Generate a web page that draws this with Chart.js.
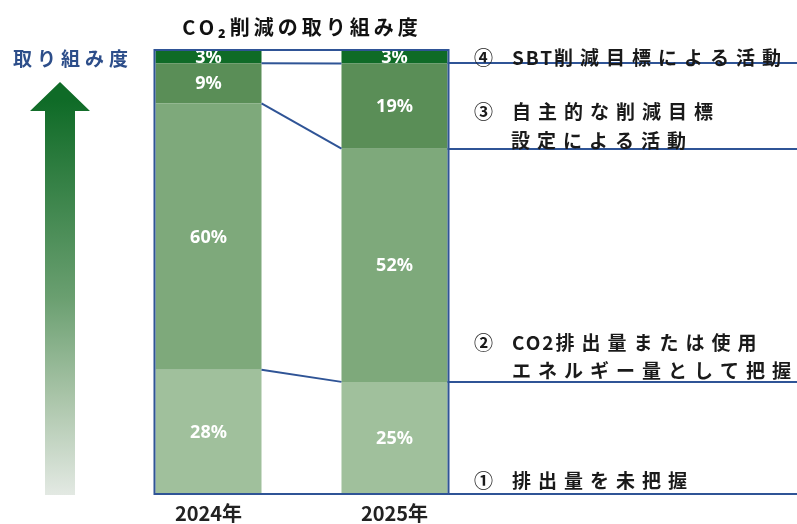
<!DOCTYPE html>
<html><head><meta charset="utf-8">
<script src="https://cdn.jsdelivr.net/npm/chart.js@4"></script>
<style>html,body{margin:0;padding:0;background:#fff}#wrap{width:797px;height:524px}</style>
</head><body><div id="wrap"><canvas id="c" width="797" height="524"></canvas></div>
<script>
const categories = ['2024年', '2025年'];
const level1 = [28, 25]; // ① 排出量を未把握
const level2 = [60, 52]; // ② CO2排出量または使用エネルギー量として把握
const level3 = [9, 19];  // ③ 自主的な削減目標設定による活動
const level4 = [3, 3];   // ④ SBT削減目標による活動
const levelNames = ['① 排出量を未把握', '② CO2排出量または使用エネルギー量として把握', '③ 自主的な削減目標設定による活動', '④ SBT削減目標による活動'];
const titleText = 'CO₂削減の取り組み度';
const axisLabel = '取り組み度';

const COLORS = ['#a0c09c', '#7ea97b', '#5a8e57', '#0f6b27'];
const BLUE = '#2f5496';
const JP = '"Noto Sans CJK JP", "Noto Sans", sans-serif';

// 100% stacked: share of each category's total (labels keep the raw values)
const rawSeries = [level1, level2, level3, level4];
const totals = categories.map((c, j) => rawSeries.reduce((s, arr) => s + arr[j], 0));
const shareSeries = rawSeries.map(arr => arr.map((v, j) => v / totals[j] * 100));

function drawRuns(ctx, txt, x, y, asciiSp, cjkSp) {
  const runs = [];
  for (const ch of txt) {
    const isAscii = ch.charCodeAt(0) < 128;
    if (runs.length && runs[runs.length - 1].a === isAscii) runs[runs.length - 1].t += ch;
    else runs.push({ t: ch, a: isAscii });
  }
  ctx.save();
  ctx.textAlign = 'left';
  for (const r of runs) {
    const sp = r.a ? asciiSp : cjkSp;
    ctx.letterSpacing = '0px';
    const w = ctx.measureText(r.t).width;
    ctx.letterSpacing = sp + 'px';
    ctx.fillText(r.t, x, y);
    x += w + sp * [...r.t].length;
  }
  ctx.restore();
}

const overlay = {
  id: 'overlay',
  beforeDraw(chart) {
    const ctx = chart.ctx;
    ctx.save();
    ctx.fillStyle = '#111';
    ctx.font = 'bold 20px ' + JP;
    ctx.textBaseline = 'middle';
    ctx.textAlign = 'center';
    ctx.letterSpacing = '4px';
    ctx.fillText(titleText, 302, 27);
    ctx.fillStyle = '#2d4e8a';
    ctx.font = 'bold 19px ' + JP;
    ctx.letterSpacing = '5px';
    ctx.fillText(axisLabel, 73, 59);
    ctx.letterSpacing = '0px';
    const g = ctx.createLinearGradient(0, 100, 0, 495);
    g.addColorStop(0, '#0f6b27');
    g.addColorStop(0.5, '#6a9f70');
    g.addColorStop(0.75, '#a9c4a8');
    g.addColorStop(1, '#e3e9e3');
    ctx.fillStyle = g;
    ctx.beginPath();
    ctx.moveTo(60, 82);
    ctx.lineTo(90, 111);
    ctx.lineTo(75, 111);
    ctx.lineTo(75, 495);
    ctx.lineTo(45, 495);
    ctx.lineTo(45, 111);
    ctx.lineTo(30, 111);
    ctx.closePath();
    ctx.fill();
    ctx.restore();
  },
  afterDatasetsDraw(chart) {
    const ctx = chart.ctx;
    const y = chart.scales.y;
    const metas = chart.data.datasets.map((d, i) => chart.getDatasetMeta(i));
    const b0 = metas[0].data[0], b1 = metas[0].data[1];
    const right0 = b0.x + b0.width / 2;
    const left0 = b0.x - b0.width / 2;
    const left1 = b1.x - b1.width / 2;
    const right1 = b1.x + b1.width / 2;
    const top = y.getPixelForValue(100), bot = y.getPixelForValue(0);
    ctx.save();
    ctx.fillStyle = '#ffffff';
    ctx.font = 'bold 18px "Noto Sans", sans-serif';
    ctx.textAlign = 'center';
    ctx.textBaseline = 'middle';
    chart.data.datasets.forEach((ds, i) => {
      metas[i].data.forEach((el, j) => {
        ctx.fillText(rawSeries[i][j] + '%', el.x, (el.y + el.base) / 2 + 1);
      });
    });
    ctx.strokeStyle = BLUE;
    ctx.lineWidth = 2;
    let c0 = 0, c1 = 0;
    const cum1 = [0];
    const ds = chart.data.datasets;
    for (let i = 0; i < ds.length - 1; i++) {
      c0 += ds[i].data[0];
      c1 += ds[i].data[1];
      cum1.push(c1);
      ctx.beginPath();
      ctx.moveTo(right0, y.getPixelForValue(c0));
      ctx.lineTo(left1, y.getPixelForValue(c1));
      ctx.stroke();
    }
    cum1.forEach(v => {
      const py = Math.round(y.getPixelForValue(v));
      ctx.beginPath();
      ctx.moveTo(right1, py);
      ctx.lineTo(797, py);
      ctx.stroke();
    });
    ctx.strokeRect(left0 - 1, top, right1 - left0 + 2, bot - top);
    ctx.fillStyle = '#1a1a1a';
    ctx.font = 'bold 19px ' + JP;
    ctx.textBaseline = 'middle';
    const sp = 7, asp = 2;
    drawRuns(ctx, '④', 474, 58, 0, 0);
    drawRuns(ctx, 'SBT削減目標による活動', 512, 58, asp, sp);
    drawRuns(ctx, '③', 474, 112, 0, 0);
    drawRuns(ctx, '自主的な削減目標', 512, 112, asp, sp);
    drawRuns(ctx, '設定による活動', 511, 141, asp, sp);
    drawRuns(ctx, '②', 474, 343, 0, 0);
    drawRuns(ctx, 'CO2排出量または使用', 512, 343, asp, sp);
    drawRuns(ctx, 'エネルギー量として把握', 512, 371, asp, sp);
    drawRuns(ctx, '①', 474, 481, 0, 0);
    drawRuns(ctx, '排出量を未把握', 512, 481, asp, sp);
    ctx.restore();
  }
};

new Chart(document.getElementById('c'), {
  type: 'bar',
  data: {
    labels: categories,
    datasets: shareSeries.map((arr, i) => ({ label: levelNames[i], data: arr, backgroundColor: COLORS[i] }))
  },
  options: {
    responsive: false,
    animation: false,
    layout: { padding: { top: 50, left: 115.5, right: 309.5, bottom: 0 } },
    datasets: { bar: { barPercentage: 1, categoryPercentage: 0.57, borderWidth: 0 } },
    plugins: { legend: { display: false }, tooltip: { enabled: false }, title: { display: false } },
    scales: {
      x: {
        stacked: true,
        grid: { display: false, drawTicks: false },
        border: { display: false },
        ticks: { color: '#222', font: { family: JP, size: 20, weight: 'bold' }, padding: 7 },
        afterFit(scale) { scale.height = 30; }
      },
      y: { stacked: true, display: false, min: 0, max: 100 }
    }
  },
  plugins: [overlay]
});
</script>
</body></html>
